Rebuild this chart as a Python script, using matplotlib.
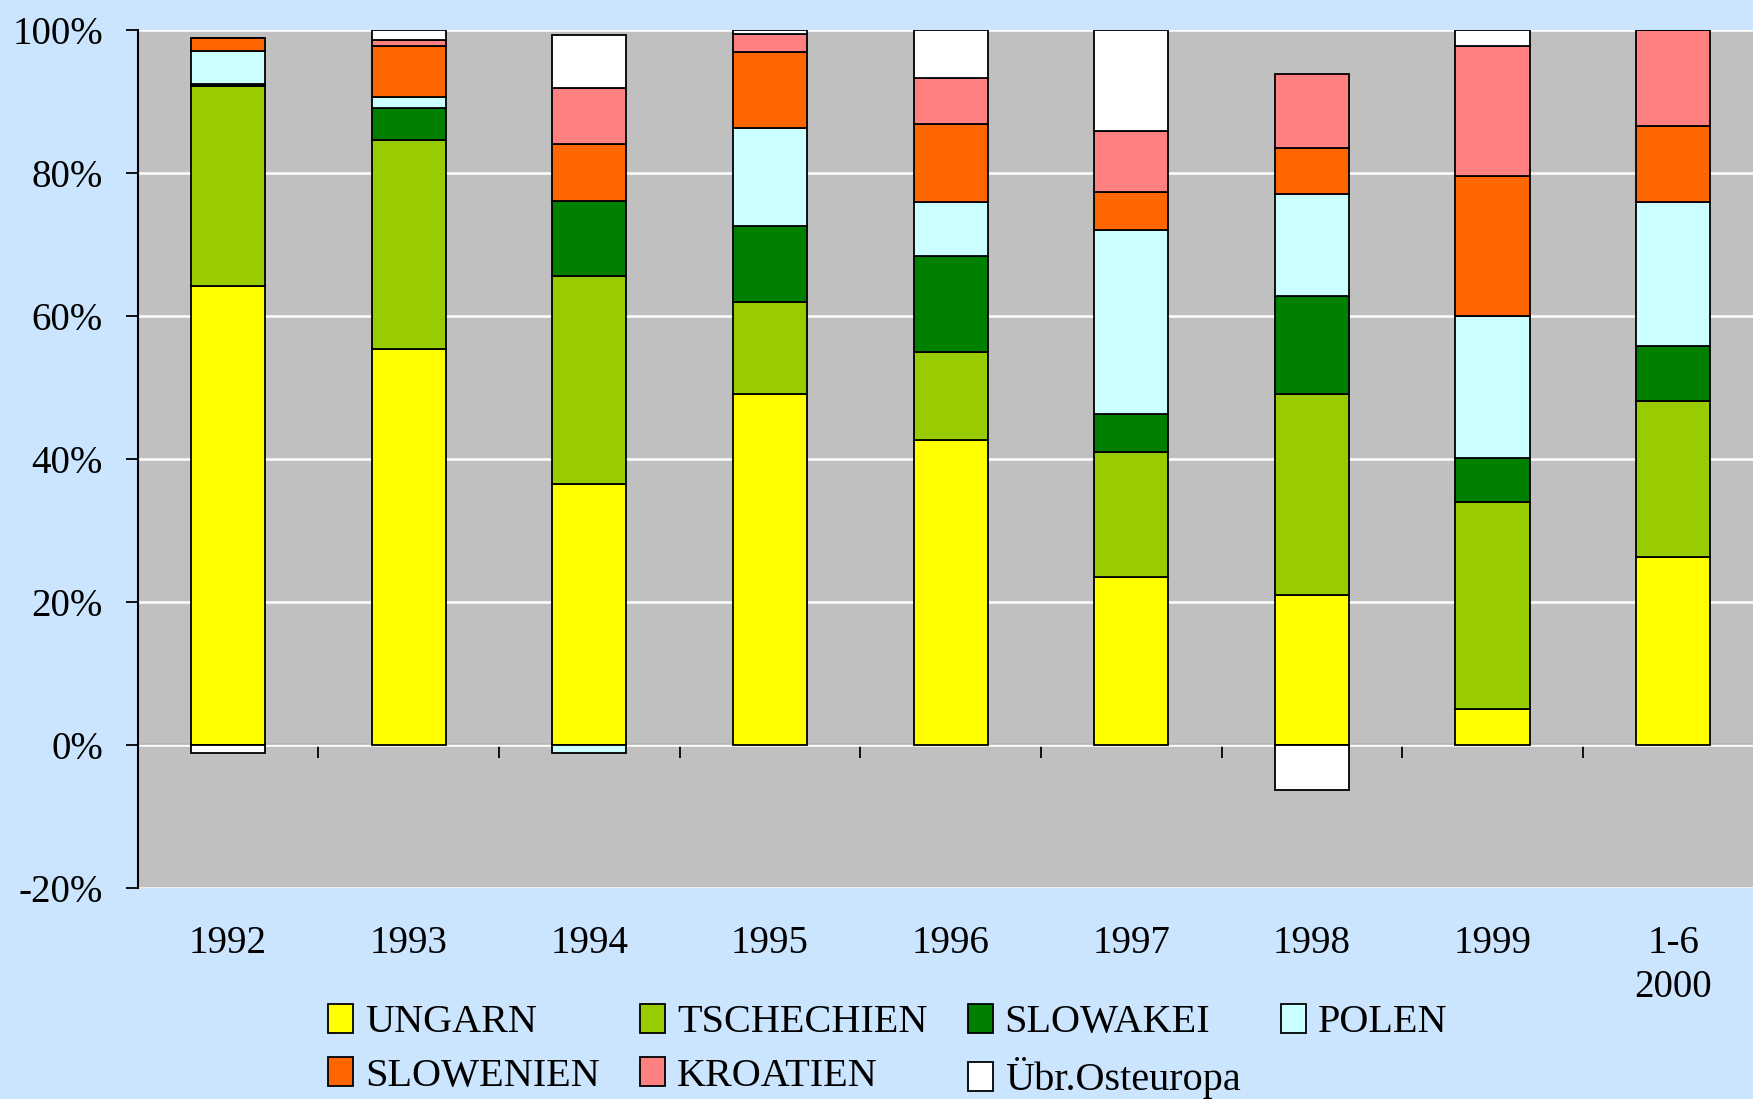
import numpy as np
import matplotlib
matplotlib.use("Agg")
import matplotlib.pyplot as plt
from matplotlib.patches import Patch

plt.rcParams['font.family'] = ['Liberation Serif', 'DejaVu Serif']

# Data (percent shares)
years = ['1992', '1993', '1994', '1995', '1996', '1997', '1998', '1999', '1-6\n2000']
ungarn = [64.1, 55.4, 36.5, 49.0, 42.6, 23.5, 21.0, 5.0, 26.3]
tschechien = [28.0, 29.2, 29.0, 12.9, 12.3, 17.4, 28.0, 28.9, 21.7]
slowakei = [0.3, 4.5, 10.6, 10.6, 13.4, 5.3, 13.7, 6.2, 7.7]
polen = [4.6, 1.5, -1.1, 13.8, 7.6, 25.8, 14.3, 19.9, 20.2]
slowenien = [1.9, 7.1, 7.9, 10.6, 10.85, 5.3, 6.5, 19.6, 10.6]
kroatien = [0.0, 0.9, 7.9, 2.5, 6.55, 8.5, 10.3, 18.1, 13.5]
uebr = [-1.1, 1.4, 7.3, 0.6, 6.7, 14.2, -6.4, 2.3, 0.0]

names = ['UNGARN', 'TSCHECHIEN', 'SLOWAKEI', 'POLEN', 'SLOWENIEN', 'KROATIEN', 'Übr.Osteuropa']
series = [ungarn, tschechien, slowakei, polen, slowenien, kroatien, uebr]
colors = ['#FFFF00', '#99CC00', '#008000', '#CCFFFF', '#FF6600', '#FF8080', '#FFFFFF']

bg = '#CCE5FF'
fig = plt.figure(figsize=(17.53, 10.99), dpi=100, facecolor=bg)
ax = fig.add_axes([0.0785, 0.1923, 0.9275, 0.7807])
ax.set_facecolor('#C0C0C0')

x = np.arange(len(years))
pos_base = np.zeros(len(years))
neg_base = np.zeros(len(years))
for name, vals, col in zip(names, series, colors):
    v = np.array(vals)
    bottom = np.where(v >= 0, pos_base, neg_base)
    ax.bar(x, v, width=0.41, bottom=bottom, color=col, edgecolor='black',
           linewidth=1.3, zorder=3)
    pos_base += np.where(v > 0, v, 0)
    neg_base += np.where(v < 0, v, 0)

ax.set_xlim(-0.5, len(years) - 0.5)
ax.set_ylim(-20, 100)
yt = [-20, 0, 20, 40, 60, 80, 100]
ax.set_yticks(yt)
ax.set_yticklabels([f'{t}%' for t in yt])
ax.tick_params(axis='y', direction='out', length=9, width=1.3, pad=16,
               labelsize=28, colors='black')
ax.grid(axis='y', color='white', linewidth=1.8, zorder=1)

for s in ['top', 'right', 'bottom']:
    ax.spines[s].set_visible(False)
ax.spines['left'].set_linewidth(1.5)

# category labels below the plot
ax.set_xticks(x)
ax.set_xticklabels(years, linespacing=1.25)
ax.tick_params(axis='x', length=0, pad=27, labelsize=28)

# zero line with category separator ticks
sec = ax.secondary_xaxis(20 / 120)
sec.set_xticks(np.arange(0.5, len(years) - 0.5, 1.0))
sec.set_xticklabels([])
sec.tick_params(direction='out', length=9, width=1.3)
sec.spines['bottom'].set_linewidth(1.5)
sec.spines['bottom'].set_zorder(4)

handles = [Patch(facecolor=c, edgecolor='black', linewidth=1.3, label=n)
           for n, c in zip(names, colors)]
order = [0, 4, 1, 5, 2, 6, 3]
fig.legend([handles[i] for i in order], [names[i] for i in order],
           loc='upper left', bbox_to_anchor=(0.187, 0.0865), ncol=4,
           frameon=False, fontsize=29, handlelength=0.62, handleheight=0.72,
           handletextpad=0.3, columnspacing=1.0, labelspacing=0.4,
           borderpad=0, borderaxespad=0)

fig.savefig('out.png', dpi=100, facecolor=bg)
